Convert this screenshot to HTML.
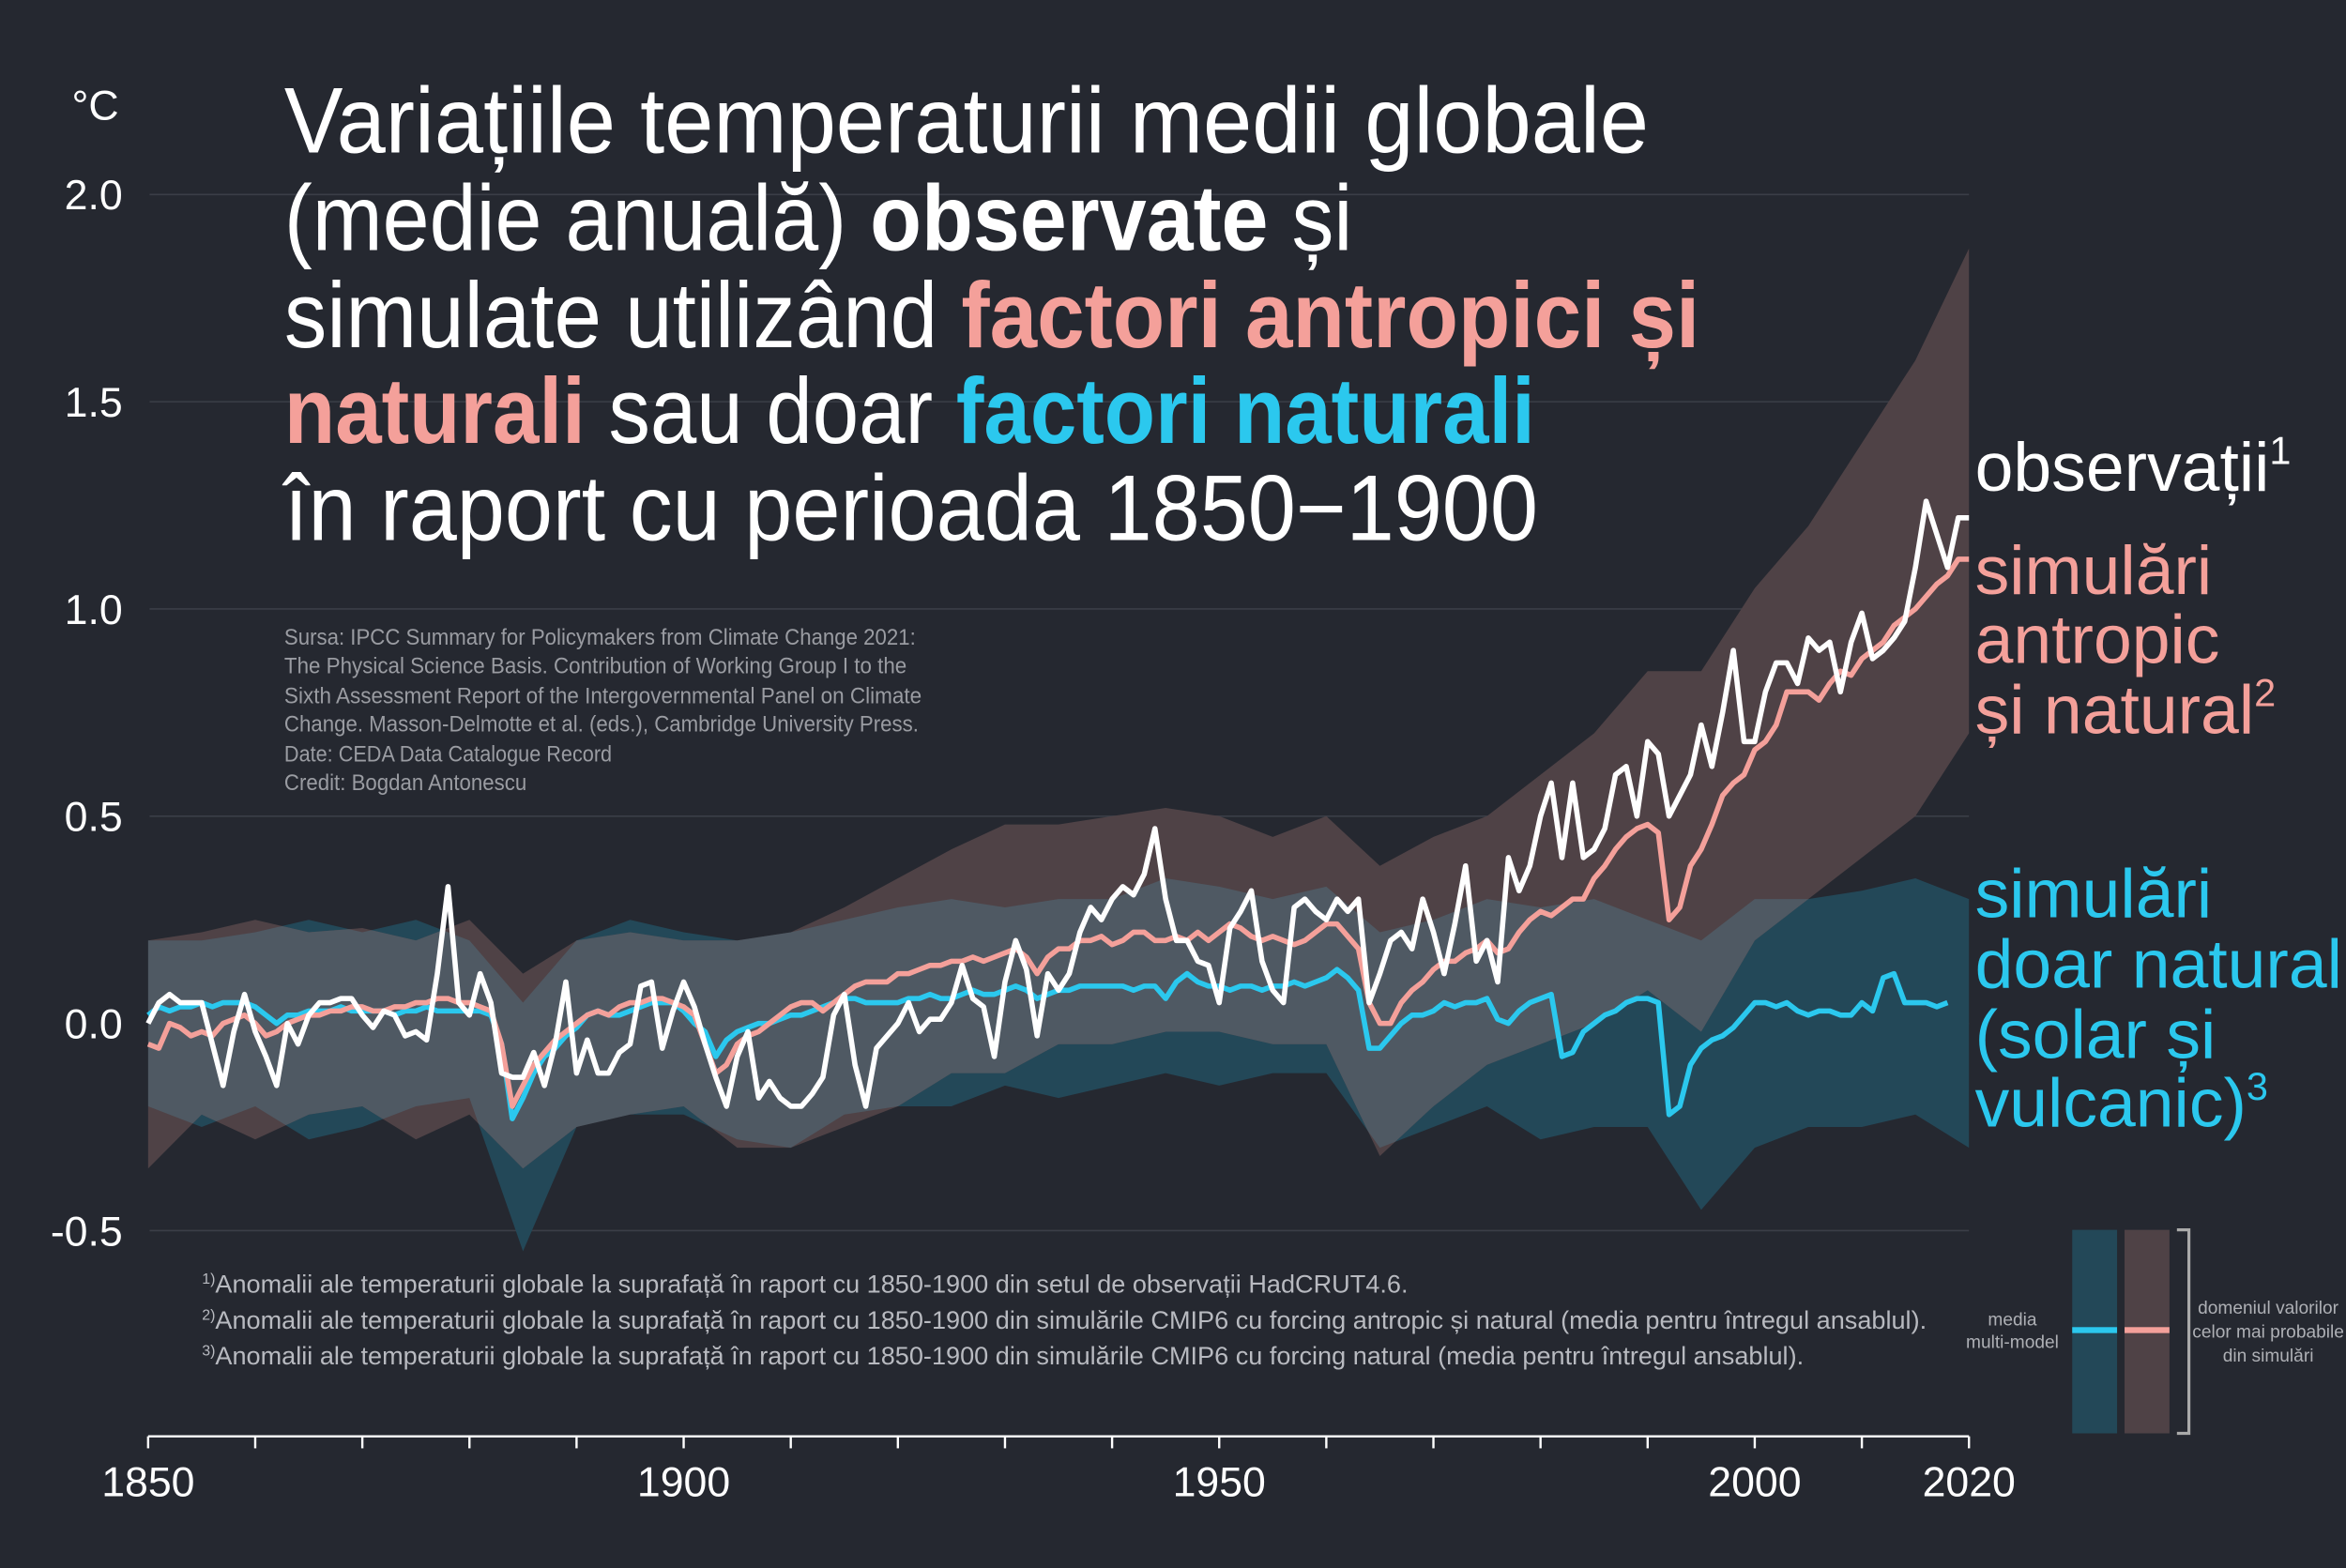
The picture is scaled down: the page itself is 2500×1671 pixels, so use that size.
<!DOCTYPE html>
<html><head><meta charset="utf-8"><style>
html,body{margin:0;padding:0;background:#252830;}
svg{display:block;font-family:"Liberation Sans Narrow","Liberation Sans",sans-serif;}
</style></head><body>
<svg id="chart" width="2500" height="1671" viewBox="0 0 1568 1048" preserveAspectRatio="none" xmlns="http://www.w3.org/2000/svg">
<rect x="0" y="0" width="1568" height="1048" fill="#252830"/>
<g id="grid"></g>
<g id="bands"></g>
<g id="lines"></g>
<g id="axes"></g>
<text x="48" y="80" font-size="28" fill="#fff">°C</text>
<g font-size="62" fill="#fff">
<text x="190" y="102" textLength="912" lengthAdjust="spacingAndGlyphs">Variațiile temperaturii medii globale</text>
<text x="190" y="167" textLength="714" lengthAdjust="spacingAndGlyphs">(medie anuală) <tspan font-weight="bold">observate</tspan> și</text>
<text x="190" y="232" textLength="946" lengthAdjust="spacingAndGlyphs">simulate utilizând <tspan font-weight="bold" fill="#f4a09a">factori antropici și</tspan></text>
<text x="190" y="296" textLength="836" lengthAdjust="spacingAndGlyphs"><tspan font-weight="bold" fill="#f4a09a">naturali</tspan> sau doar <tspan font-weight="bold" fill="#2bc8ee">factori naturali</tspan></text>
<text x="190" y="361" textLength="838" lengthAdjust="spacingAndGlyphs">în raport cu perioada 1850−1900</text>
</g>
<g font-size="15" fill="#9a9ca2">
<text x="190" y="431" textLength="422" lengthAdjust="spacingAndGlyphs">Sursa: IPCC Summary for Policymakers from Climate Change 2021:</text>
<text x="190" y="450" textLength="416" lengthAdjust="spacingAndGlyphs">The Physical Science Basis. Contribution of Working Group I to the</text>
<text x="190" y="470" textLength="426" lengthAdjust="spacingAndGlyphs">Sixth Assessment Report of the Intergovernmental Panel on Climate</text>
<text x="190" y="489" textLength="424" lengthAdjust="spacingAndGlyphs">Change. Masson-Delmotte et al. (eds.), Cambridge University Press.</text>
<text x="190" y="509" textLength="219" lengthAdjust="spacingAndGlyphs">Date: CEDA Data Catalogue Record</text>
<text x="190" y="528" textLength="162" lengthAdjust="spacingAndGlyphs">Credit: Bogdan Antonescu</text>
</g>
<g font-size="17" fill="#b8bac0">
<text x="135" y="864"><tspan font-size="10" dy="-6">1)</tspan><tspan dy="6">Anomalii ale temperaturii globale la suprafață în raport cu 1850-1900 din setul de observații HadCRUT4.6.</tspan></text>
<text x="135" y="888"><tspan font-size="10" dy="-6">2)</tspan><tspan dy="6">Anomalii ale temperaturii globale la suprafață în raport cu 1850-1900 din simulările CMIP6 cu forcing antropic și natural (media pentru întregul ansablul).</tspan></text>
<text x="135" y="912"><tspan font-size="10" dy="-6">3)</tspan><tspan dy="6">Anomalii ale temperaturii globale la suprafață în raport cu 1850-1900 din simulările CMIP6 cu forcing natural (media pentru întregul ansablul).</tspan></text>
</g>
<g font-size="46">
<text x="1320" y="328" fill="#fff">observații<tspan font-size="26" dy="-18">1</tspan></text>
<g fill="#f4a09a">
<text x="1320" y="397">simulări</text><text x="1320" y="443">antropic</text><text x="1320" y="490">și natural<tspan font-size="26" dy="-18">2</tspan></text></g>
<g fill="#2bc8ee">
<text x="1320" y="613">simulări</text><text x="1320" y="660">doar natural</text><text x="1320" y="707">(solar și</text><text x="1320" y="753">vulcanic)<tspan font-size="26" dy="-18">3</tspan></text></g>
</g>
<g>
<rect x="1385" y="822" width="30" height="136" fill="#234858"/>
<rect x="1420" y="822" width="30" height="136" fill="#4f4246"/>
<rect x="1385" y="887" width="30" height="4" fill="#2bc8ee"/>
<rect x="1420" y="887" width="30" height="4" fill="#f4a09a"/>
<path d="M1455 822 H1463 V958 H1455" fill="none" stroke="#aaa" stroke-width="2"/>
<g font-size="12" fill="#aeb0b5" text-anchor="middle">
<text x="1345" y="886">media</text><text x="1345" y="901">multi-model</text>
<text x="1516" y="878">domeniul valorilor</text><text x="1516" y="894">celor mai probabile</text><text x="1516" y="910">din simulări</text>
</g>
</g>
</svg>
<script>
const startYear = 1850;
const observed = [0.0,0.05,0.07,0.05,0.05,0.05,-0.05,-0.15,-0.02,0.07,-0.02,-0.08,-0.15,0.0,-0.05,0.02,0.05,0.05,0.06,0.06,0.02,-0.01,0.03,0.02,-0.03,-0.02,-0.04,0.12,0.33,0.05,0.02,0.12,0.05,-0.12,-0.13,-0.13,-0.07,-0.15,-0.05,0.1,-0.12,-0.04,-0.12,-0.12,-0.07,-0.05,0.09,0.1,-0.06,0.03,0.1,0.04,-0.05,-0.13,-0.2,-0.08,-0.02,-0.18,-0.14,-0.18,-0.2,-0.2,-0.17,-0.13,0.02,0.07,-0.1,-0.2,-0.06,-0.03,0.0,0.05,-0.02,0.01,0.01,0.05,0.14,0.06,0.04,-0.08,0.1,0.2,0.13,-0.03,0.12,0.08,0.12,0.22,0.28,0.25,0.3,0.33,0.31,0.36,0.47,0.3,0.2,0.2,0.15,0.14,0.05,0.23,0.27,0.32,0.15,0.08,0.05,0.28,0.3,0.27,0.25,0.3,0.27,0.3,0.05,0.12,0.2,0.22,0.18,0.3,0.22,0.12,0.24,0.38,0.15,0.2,0.1,0.4,0.32,0.38,0.5,0.58,0.4,0.58,0.4,0.42,0.47,0.6,0.62,0.5,0.68,0.65,0.5,0.55,0.6,0.72,0.62,0.75,0.9,0.68,0.68,0.8,0.87,0.87,0.82,0.93,0.9,0.92,0.8,0.92,0.99,0.88,0.9,0.93,0.97,1.1,1.26,1.18,1.1,1.22,1.22];
const anthroMean = [-0.05,-0.06,0.0,-0.01,-0.03,-0.02,-0.03,0.0,0.01,0.02,0.0,-0.03,-0.02,0.0,0.01,0.02,0.02,0.03,0.03,0.04,0.04,0.03,0.03,0.04,0.04,0.05,0.05,0.06,0.06,0.05,0.05,0.04,0.03,-0.05,-0.2,-0.15,-0.1,-0.07,-0.04,-0.02,0.0,0.02,0.03,0.02,0.04,0.05,0.05,0.06,0.06,0.05,0.04,0.02,-0.05,-0.12,-0.1,-0.05,-0.03,-0.02,0.0,0.02,0.04,0.05,0.05,0.03,0.05,0.07,0.09,0.1,0.1,0.1,0.12,0.12,0.13,0.14,0.14,0.15,0.15,0.16,0.15,0.16,0.17,0.18,0.16,0.12,0.16,0.18,0.18,0.2,0.2,0.21,0.19,0.2,0.22,0.22,0.2,0.2,0.21,0.2,0.22,0.2,0.22,0.24,0.23,0.21,0.2,0.21,0.2,0.19,0.2,0.22,0.24,0.24,0.21,0.18,0.05,0.0,0.0,0.05,0.08,0.1,0.13,0.15,0.15,0.17,0.18,0.2,0.17,0.18,0.22,0.25,0.27,0.26,0.28,0.3,0.3,0.35,0.38,0.42,0.45,0.47,0.48,0.46,0.25,0.28,0.38,0.42,0.48,0.55,0.58,0.6,0.66,0.68,0.72,0.8,0.8,0.8,0.78,0.82,0.85,0.84,0.88,0.9,0.92,0.96,0.98,1.0,1.03,1.06,1.08,1.12,1.12];
const naturalMean = [0.02,0.04,0.03,0.04,0.04,0.05,0.04,0.05,0.05,0.05,0.04,0.02,0.0,0.02,0.02,0.03,0.03,0.03,0.04,0.03,0.03,0.03,0.03,0.02,0.03,0.03,0.04,0.03,0.03,0.03,0.03,0.03,0.02,-0.05,-0.23,-0.18,-0.12,-0.08,-0.06,-0.03,-0.01,0.02,0.03,0.02,0.02,0.03,0.04,0.05,0.05,0.05,0.03,0.0,-0.02,-0.08,-0.04,-0.02,-0.01,0.0,0.0,0.01,0.02,0.02,0.03,0.04,0.05,0.06,0.06,0.05,0.05,0.05,0.05,0.06,0.06,0.07,0.06,0.06,0.07,0.08,0.07,0.07,0.08,0.09,0.08,0.06,0.07,0.08,0.08,0.09,0.09,0.09,0.09,0.09,0.08,0.09,0.09,0.06,0.1,0.12,0.1,0.09,0.09,0.08,0.09,0.09,0.08,0.09,0.09,0.1,0.09,0.1,0.11,0.13,0.11,0.08,-0.06,-0.06,-0.03,0.0,0.02,0.02,0.03,0.05,0.04,0.05,0.05,0.06,0.01,0.0,0.03,0.05,0.06,0.07,-0.08,-0.07,-0.02,0.0,0.02,0.03,0.05,0.06,0.06,0.05,-0.22,-0.2,-0.1,-0.06,-0.04,-0.03,-0.01,0.02,0.05,0.05,0.04,0.05,0.03,0.02,0.03,0.03,0.02,0.02,0.05,0.03,0.11,0.12,0.05,0.05,0.05,0.04,0.05];
const bandYears = [1850,1855,1860,1865,1870,1875,1880,1885,1890,1895,1900,1905,1910,1915,1920,1925,1930,1935,1940,1945,1950,1955,1960,1965,1970,1975,1980,1985,1990,1995,2000,2005,2010,2015,2020];
const anthroUpper = [0.2,0.22,0.25,0.22,0.23,0.2,0.25,0.12,0.2,0.22,0.2,0.2,0.22,0.28,0.35,0.42,0.48,0.48,0.5,0.52,0.5,0.45,0.5,0.38,0.45,0.5,0.6,0.7,0.85,0.85,1.05,1.2,1.4,1.6,1.87];
const anthroLower = [-0.35,-0.22,-0.28,-0.22,-0.2,-0.28,-0.22,-0.35,-0.25,-0.22,-0.2,-0.3,-0.3,-0.25,-0.2,-0.12,-0.12,-0.05,-0.05,-0.02,-0.02,-0.05,-0.05,-0.32,-0.2,-0.1,-0.05,0.0,0.08,-0.02,0.2,0.3,0.4,0.5,0.7];
const naturalUpper = [0.2,0.2,0.22,0.25,0.22,0.25,0.2,0.05,0.2,0.25,0.22,0.2,0.22,0.25,0.28,0.3,0.28,0.3,0.3,0.35,0.33,0.3,0.33,0.22,0.25,0.3,0.28,0.3,0.25,0.2,0.3,0.3,0.32,0.35,0.3];
const naturalLower = [-0.2,-0.25,-0.2,-0.28,-0.25,-0.2,-0.18,-0.55,-0.25,-0.22,-0.22,-0.28,-0.3,-0.22,-0.2,-0.2,-0.15,-0.18,-0.15,-0.12,-0.15,-0.12,-0.12,-0.3,-0.25,-0.2,-0.28,-0.25,-0.25,-0.45,-0.3,-0.25,-0.25,-0.22,-0.3];
const yTicks = [2.0,1.5,1.0,0.5,0.0,-0.5];
const yTickLabels = ["2.0","1.5","1.0","0.5","0.0","-0.5"];
const xTickLabels = [1850,1900,1950,2000,2020];

const NS="http://www.w3.org/2000/svg";
const X0=99,X1=1316,Y0=684,PPU=277;
function xs(yr){return X0+(yr-1850)*(X1-X0)/170;}
function ys(v){return Y0-v*PPU;}
function el(tag,attrs,parent){const e=document.createElementNS(NS,tag);for(const k in attrs)e.setAttribute(k,attrs[k]);parent.appendChild(e);return e;}
const grid=document.getElementById('grid'),bands=document.getElementById('bands'),lines=document.getElementById('lines'),axes=document.getElementById('axes');
const svg=document.getElementById('chart');

yTicks.forEach((v,i)=>{
  const g=el('line',{x1:100,x2:X1,y1:ys(v),y2:ys(v),stroke:'#3b3e47','stroke-width':1},grid);
  
  
  const t=el('text',{x:82,y:ys(v)+10,'font-size':28,fill:'#fff','text-anchor':'end'},axes);
  t.textContent=yTickLabels[i];
  
  
});
const xl=el('line',{x1:X0,x2:X1,y1:960,y2:960,stroke:'#fff','stroke-width':1.5},axes);


for(let yr=1850;yr<=2020;yr+=10){
  const tk=el('line',{x1:xs(yr),x2:xs(yr),y1:960,y2:968,stroke:'#fff','stroke-width':1.5},axes);
  
  
}
xTickLabels.forEach(yr=>{
  const t=el('text',{x:xs(yr),y:1000,'font-size':28,fill:'#fff','text-anchor':'middle'},axes);
  t.textContent=yr;
  
  
});

function bandPath(years,up,lo){
  let d='M'+years.map((y,i)=>xs(y)+','+ys(up[i])).join(' L');
  for(let i=years.length-1;i>=0;i--)d+=' L'+xs(years[i])+','+ys(lo[i]);
  return d+'Z';
}
const defs=el('defs',{},svg);
const cp=el('clipPath',{id:'natClip'},defs);
el('path',{d:bandPath(bandYears,naturalUpper,naturalLower)},cp);
const nb=el('path',{d:bandPath(bandYears,naturalUpper,naturalLower),fill:'#234858'},bands);


const ab=el('path',{d:bandPath(bandYears,anthroUpper,anthroLower),fill:'#4f4246'},bands);


const ob=el('path',{d:bandPath(bandYears,anthroUpper,anthroLower),fill:'#4f5963','clip-path':'url(#natClip)'},bands);



function linePath(arr){return 'M'+arr.map((v,i)=>xs(startYear+i)+','+ys(v)).join(' L');}
const nl=el('path',{d:linePath(naturalMean),fill:'none',stroke:'#2bc8ee','stroke-width':3.5,'stroke-linejoin':'round'},lines);


const al=el('path',{d:linePath(anthroMean),fill:'none',stroke:'#f4a09a','stroke-width':3.5,'stroke-linejoin':'round'},lines);


const obl=el('path',{d:linePath(observed),fill:'none',stroke:'#fff','stroke-width':3.5,'stroke-linejoin':'round'},lines);


</script>
</body></html>
